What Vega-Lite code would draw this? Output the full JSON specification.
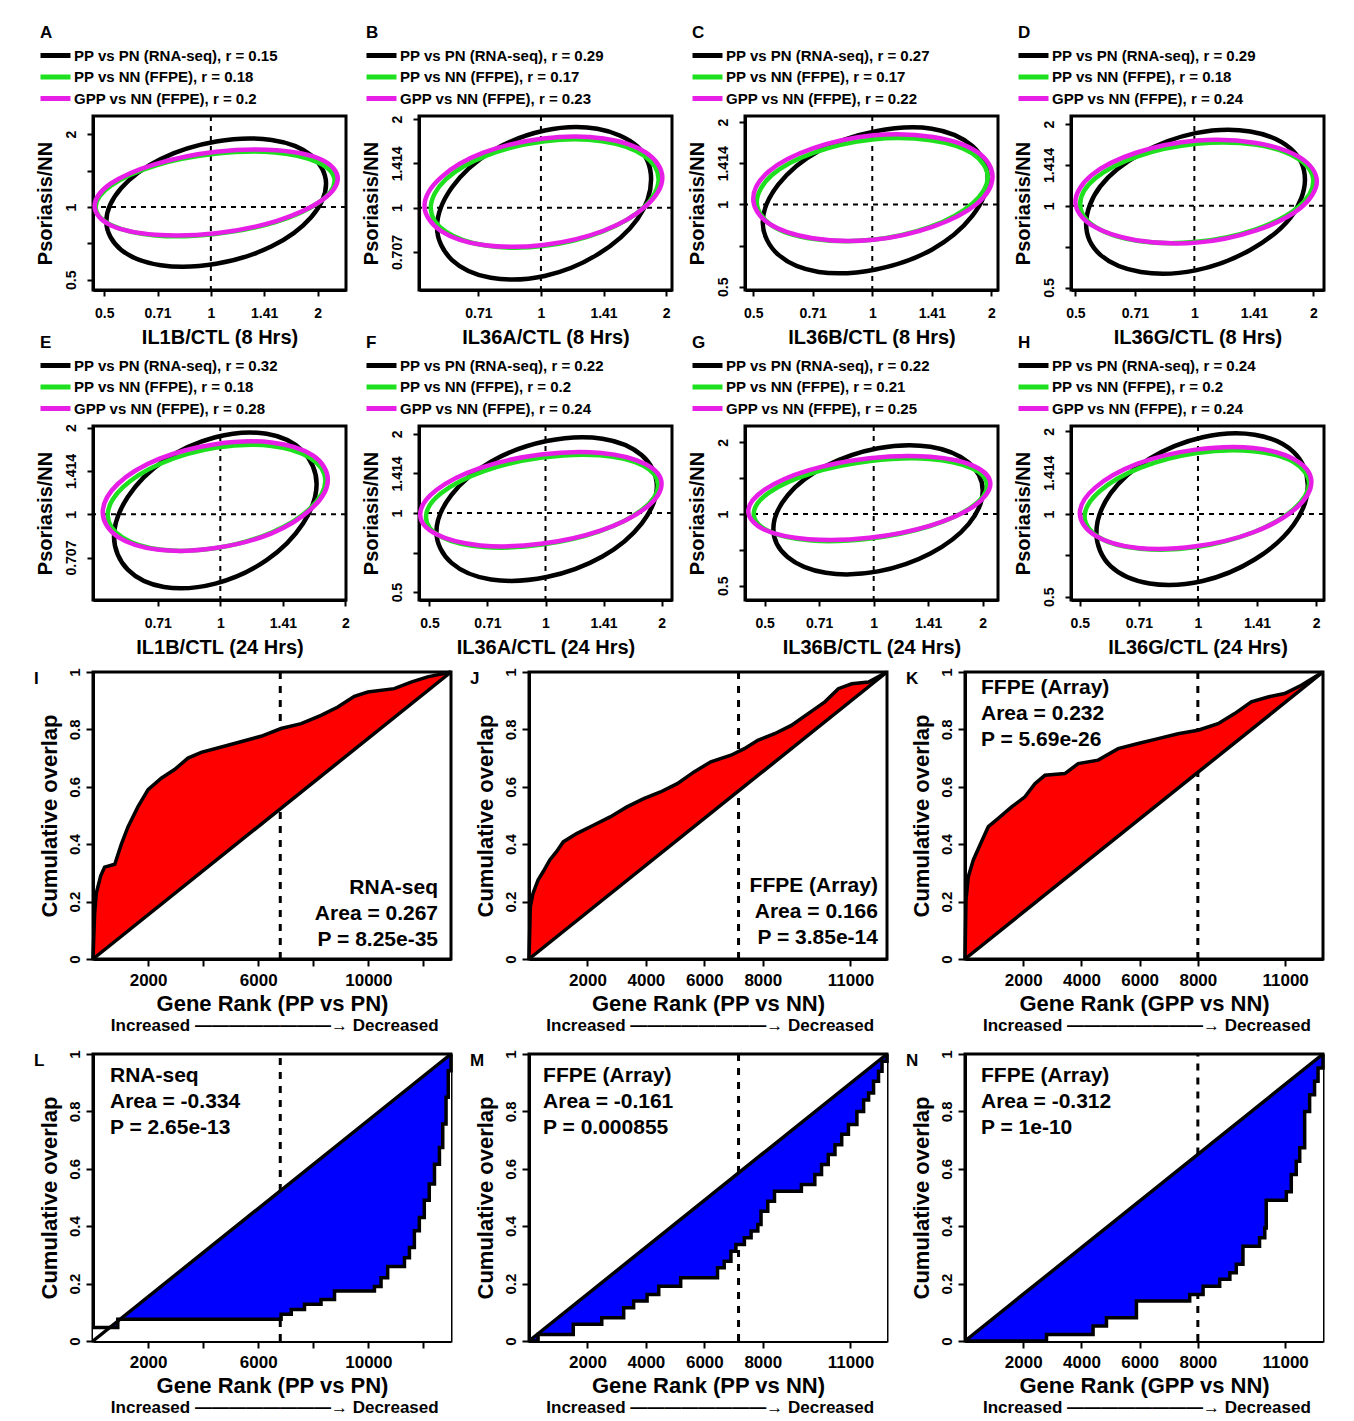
{
"$schema":"https://vega.github.io/schema/vega-lite/v6.json",
"background":"white",
"padding":{"left":32,"top":22,"right":5,"bottom":0},
"config":{
 "view":{"stroke":"black","strokeWidth":3},
 "font":"Liberation Sans",
 "axis":{"domain":true,"domainColor":"black","domainWidth":3,"ticks":true,"tickColor":"black","tickWidth":2,"tickSize":6,"grid":false,"labelColor":"black","labelFont":"Liberation Sans","labelFontWeight":"bold","titleColor":"black","titleFont":"Liberation Sans","titleFontWeight":"bold","zindex":1,"labelFlush":false,"labelOverlap":false},
 "axisX":{"labelAngle":0},
 "axisY":{"labelAngle":-90,"labelAlign":"center","labelBaseline":"bottom"},
 "title":{"font":"Liberation Sans","fontSize":17,"fontWeight":"bold","color":"black","anchor":"start","frame":"group","offset":6},
 "text":{"font":"Liberation Sans","fontWeight":"bold","color":"black"}
},
"datasets":{
"leg":[
{"s":"A1","k":1,"lab":"PP vs PN (RNA-seq), r = 0.15"},{"s":"A2","k":2,"lab":"PP vs NN (FFPE), r = 0.18"},{"s":"A3","k":3,"lab":"GPP vs NN (FFPE), r = 0.2"},
{"s":"B1","k":1,"lab":"PP vs PN (RNA-seq), r = 0.29"},{"s":"B2","k":2,"lab":"PP vs NN (FFPE), r = 0.17"},{"s":"B3","k":3,"lab":"GPP vs NN (FFPE), r = 0.23"},
{"s":"C1","k":1,"lab":"PP vs PN (RNA-seq), r = 0.27"},{"s":"C2","k":2,"lab":"PP vs NN (FFPE), r = 0.17"},{"s":"C3","k":3,"lab":"GPP vs NN (FFPE), r = 0.22"},
{"s":"D1","k":1,"lab":"PP vs PN (RNA-seq), r = 0.29"},{"s":"D2","k":2,"lab":"PP vs NN (FFPE), r = 0.18"},{"s":"D3","k":3,"lab":"GPP vs NN (FFPE), r = 0.24"},
{"s":"E1","k":1,"lab":"PP vs PN (RNA-seq), r = 0.32"},{"s":"E2","k":2,"lab":"PP vs NN (FFPE), r = 0.18"},{"s":"E3","k":3,"lab":"GPP vs NN (FFPE), r = 0.28"},
{"s":"F1","k":1,"lab":"PP vs PN (RNA-seq), r = 0.22"},{"s":"F2","k":2,"lab":"PP vs NN (FFPE), r = 0.2"},{"s":"F3","k":3,"lab":"GPP vs NN (FFPE), r = 0.24"},
{"s":"G1","k":1,"lab":"PP vs PN (RNA-seq), r = 0.22"},{"s":"G2","k":2,"lab":"PP vs NN (FFPE), r = 0.21"},{"s":"G3","k":3,"lab":"GPP vs NN (FFPE), r = 0.25"},
{"s":"H1","k":1,"lab":"PP vs PN (RNA-seq), r = 0.24"},{"s":"H2","k":2,"lab":"PP vs NN (FFPE), r = 0.2"},{"s":"H3","k":3,"lab":"GPP vs NN (FFPE), r = 0.24"}
],
"ell":[
{"s":"A1","x":1.08,"y":0.32},{"s":"A1","x":0.94,"y":0.71},{"s":"A1","x":0.57,"y":0.92},{"s":"A1","x":0.05,"y":0.90},{"s":"A1","x":-0.47,"y":0.66},{"s":"A1","x":-0.84,"y":0.26},{"s":"A1","x":-0.98,"y":-0.20},{"s":"A1","x":-0.84,"y":-0.59},{"s":"A1","x":-0.47,"y":-0.80},{"s":"A1","x":0.05,"y":-0.78},{"s":"A1","x":0.57,"y":-0.54},{"s":"A1","x":0.94,"y":-0.14},
{"s":"A2","x":1.16,"y":0.36},{"s":"A2","x":1.01,"y":0.61},{"s":"A2","x":0.60,"y":0.75},{"s":"A2","x":0.04,"y":0.73},{"s":"A2","x":-0.52,"y":0.57},{"s":"A2","x":-0.93,"y":0.30},{"s":"A2","x":-1.08,"y":0.00},{"s":"A2","x":-0.93,"y":-0.25},{"s":"A2","x":-0.52,"y":-0.39},{"s":"A2","x":0.04,"y":-0.37},{"s":"A2","x":0.60,"y":-0.21},{"s":"A2","x":1.01,"y":0.06},
{"s":"A3","x":1.19,"y":0.39},{"s":"A3","x":1.04,"y":0.65},{"s":"A3","x":0.62,"y":0.78},{"s":"A3","x":0.05,"y":0.76},{"s":"A3","x":-0.52,"y":0.59},{"s":"A3","x":-0.94,"y":0.32},{"s":"A3","x":-1.09,"y":0.01},{"s":"A3","x":-0.94,"y":-0.25},{"s":"A3","x":-0.52,"y":-0.38},{"s":"A3","x":0.05,"y":-0.36},{"s":"A3","x":0.62,"y":-0.19},{"s":"A3","x":1.04,"y":0.09},
{"s":"B1","x":0.88,"y":0.32},{"s":"B1","x":0.77,"y":0.69},{"s":"B1","x":0.45,"y":0.89},{"s":"B1","x":0.03,"y":0.87},{"s":"B1","x":-0.40,"y":0.63},{"s":"B1","x":-0.71,"y":0.23},{"s":"B1","x":-0.83,"y":-0.22},{"s":"B1","x":-0.71,"y":-0.59},{"s":"B1","x":-0.40,"y":-0.79},{"s":"B1","x":0.03,"y":-0.77},{"s":"B1","x":0.45,"y":-0.53},{"s":"B1","x":0.77,"y":-0.13},
{"s":"B2","x":0.94,"y":0.32},{"s":"B2","x":0.82,"y":0.59},{"s":"B2","x":0.49,"y":0.75},{"s":"B2","x":0.03,"y":0.75},{"s":"B2","x":-0.43,"y":0.59},{"s":"B2","x":-0.76,"y":0.32},{"s":"B2","x":-0.88,"y":0.00},{"s":"B2","x":-0.76,"y":-0.27},{"s":"B2","x":-0.43,"y":-0.43},{"s":"B2","x":0.03,"y":-0.43},{"s":"B2","x":0.49,"y":-0.27},{"s":"B2","x":0.82,"y":0.00},
{"s":"B3","x":0.97,"y":0.34},{"s":"B3","x":0.84,"y":0.62},{"s":"B3","x":0.50,"y":0.78},{"s":"B3","x":0.02,"y":0.78},{"s":"B3","x":-0.46,"y":0.62},{"s":"B3","x":-0.80,"y":0.34},{"s":"B3","x":-0.93,"y":0.02},{"s":"B3","x":-0.80,"y":-0.26},{"s":"B3","x":-0.46,"y":-0.42},{"s":"B3","x":0.02,"y":-0.42},{"s":"B3","x":0.50,"y":-0.26},{"s":"B3","x":0.84,"y":0.02},
{"s":"C1","x":0.97,"y":0.32},{"s":"C1","x":0.84,"y":0.71},{"s":"C1","x":0.50,"y":0.92},{"s":"C1","x":0.03,"y":0.89},{"s":"C1","x":-0.45,"y":0.65},{"s":"C1","x":-0.79,"y":0.24},{"s":"C1","x":-0.92,"y":-0.22},{"s":"C1","x":-0.79,"y":-0.61},{"s":"C1","x":-0.45,"y":-0.82},{"s":"C1","x":0.03,"y":-0.79},{"s":"C1","x":0.50,"y":-0.55},{"s":"C1","x":0.84,"y":-0.14},
{"s":"C2","x":0.97,"y":0.33},{"s":"C2","x":0.84,"y":0.62},{"s":"C2","x":0.49,"y":0.78},{"s":"C2","x":0.00,"y":0.79},{"s":"C2","x":-0.49,"y":0.63},{"s":"C2","x":-0.84,"y":0.36},{"s":"C2","x":-0.97,"y":0.03},{"s":"C2","x":-0.84,"y":-0.26},{"s":"C2","x":-0.49,"y":-0.42},{"s":"C2","x":0.00,"y":-0.43},{"s":"C2","x":0.49,"y":-0.27},{"s":"C2","x":0.84,"y":0.01},
{"s":"C3","x":1.01,"y":0.34},{"s":"C3","x":0.88,"y":0.64},{"s":"C3","x":0.51,"y":0.82},{"s":"C3","x":0.01,"y":0.84},{"s":"C3","x":-0.50,"y":0.68},{"s":"C3","x":-0.87,"y":0.40},{"s":"C3","x":-1.00,"y":0.07},{"s":"C3","x":-0.87,"y":-0.23},{"s":"C3","x":-0.50,"y":-0.41},{"s":"C3","x":0.01,"y":-0.43},{"s":"C3","x":0.51,"y":-0.27},{"s":"C3","x":0.88,"y":0.01},
{"s":"D1","x":0.93,"y":0.32},{"s":"D1","x":0.81,"y":0.70},{"s":"D1","x":0.47,"y":0.91},{"s":"D1","x":0.01,"y":0.89},{"s":"D1","x":-0.45,"y":0.64},{"s":"D1","x":-0.79,"y":0.24},{"s":"D1","x":-0.91,"y":-0.22},{"s":"D1","x":-0.79,"y":-0.60},{"s":"D1","x":-0.45,"y":-0.81},{"s":"D1","x":0.01,"y":-0.79},{"s":"D1","x":0.47,"y":-0.54},{"s":"D1","x":0.81,"y":-0.14},
{"s":"D2","x":1.00,"y":0.30},{"s":"D2","x":0.87,"y":0.58},{"s":"D2","x":0.51,"y":0.75},{"s":"D2","x":0.02,"y":0.76},{"s":"D2","x":-0.47,"y":0.61},{"s":"D2","x":-0.83,"y":0.34},{"s":"D2","x":-0.96,"y":0.02},{"s":"D2","x":-0.83,"y":-0.26},{"s":"D2","x":-0.47,"y":-0.43},{"s":"D2","x":0.02,"y":-0.44},{"s":"D2","x":0.51,"y":-0.29},{"s":"D2","x":0.87,"y":-0.02},
{"s":"D3","x":1.03,"y":0.30},{"s":"D3","x":0.89,"y":0.59},{"s":"D3","x":0.52,"y":0.77},{"s":"D3","x":0.02,"y":0.80},{"s":"D3","x":-0.49,"y":0.65},{"s":"D3","x":-0.86,"y":0.38},{"s":"D3","x":-1.00,"y":0.05},{"s":"D3","x":-0.86,"y":-0.24},{"s":"D3","x":-0.49,"y":-0.42},{"s":"D3","x":0.02,"y":-0.45},{"s":"D3","x":0.52,"y":-0.30},{"s":"D3","x":0.89,"y":-0.03},
{"s":"E1","x":0.77,"y":0.35},{"s":"E1","x":0.66,"y":0.73},{"s":"E1","x":0.37,"y":0.93},{"s":"E1","x":-0.04,"y":0.89},{"s":"E1","x":-0.45,"y":0.62},{"s":"E1","x":-0.74,"y":0.20},{"s":"E1","x":-0.85,"y":-0.26},{"s":"E1","x":-0.74,"y":-0.64},{"s":"E1","x":-0.45,"y":-0.84},{"s":"E1","x":-0.04,"y":-0.80},{"s":"E1","x":0.37,"y":-0.53},{"s":"E1","x":0.66,"y":-0.11},
{"s":"E2","x":0.84,"y":0.39},{"s":"E2","x":0.72,"y":0.65},{"s":"E2","x":0.41,"y":0.79},{"s":"E2","x":-0.03,"y":0.77},{"s":"E2","x":-0.47,"y":0.59},{"s":"E2","x":-0.78,"y":0.31},{"s":"E2","x":-0.90,"y":-0.01},{"s":"E2","x":-0.78,"y":-0.27},{"s":"E2","x":-0.47,"y":-0.41},{"s":"E2","x":-0.03,"y":-0.39},{"s":"E2","x":0.41,"y":-0.21},{"s":"E2","x":0.72,"y":0.07},
{"s":"E3","x":0.86,"y":0.40},{"s":"E3","x":0.74,"y":0.68},{"s":"E3","x":0.41,"y":0.83},{"s":"E3","x":-0.04,"y":0.81},{"s":"E3","x":-0.49,"y":0.64},{"s":"E3","x":-0.82,"y":0.35},{"s":"E3","x":-0.94,"y":0.02},{"s":"E3","x":-0.82,"y":-0.26},{"s":"E3","x":-0.49,"y":-0.41},{"s":"E3","x":-0.04,"y":-0.39},{"s":"E3","x":0.41,"y":-0.22},{"s":"E3","x":0.74,"y":0.08},
{"s":"F1","x":0.96,"y":0.34},{"s":"F1","x":0.83,"y":0.73},{"s":"F1","x":0.49,"y":0.94},{"s":"F1","x":0.01,"y":0.91},{"s":"F1","x":-0.47,"y":0.65},{"s":"F1","x":-0.81,"y":0.23},{"s":"F1","x":-0.94,"y":-0.24},{"s":"F1","x":-0.81,"y":-0.63},{"s":"F1","x":-0.47,"y":-0.84},{"s":"F1","x":0.01,"y":-0.81},{"s":"F1","x":0.49,"y":-0.55},{"s":"F1","x":0.83,"y":-0.13},
{"s":"F2","x":0.97,"y":0.35},{"s":"F2","x":0.84,"y":0.60},{"s":"F2","x":0.47,"y":0.73},{"s":"F2","x":-0.03,"y":0.70},{"s":"F2","x":-0.53,"y":0.53},{"s":"F2","x":-0.90,"y":0.25},{"s":"F2","x":-1.03,"y":-0.05},{"s":"F2","x":-0.90,"y":-0.30},{"s":"F2","x":-0.53,"y":-0.43},{"s":"F2","x":-0.03,"y":-0.40},{"s":"F2","x":0.47,"y":-0.23},{"s":"F2","x":0.84,"y":0.05},
{"s":"F3","x":1.00,"y":0.37},{"s":"F3","x":0.86,"y":0.62},{"s":"F3","x":0.48,"y":0.76},{"s":"F3","x":-0.04,"y":0.74},{"s":"F3","x":-0.56,"y":0.57},{"s":"F3","x":-0.94,"y":0.29},{"s":"F3","x":-1.08,"y":-0.02},{"s":"F3","x":-0.94,"y":-0.27},{"s":"F3","x":-0.56,"y":-0.41},{"s":"F3","x":-0.04,"y":-0.39},{"s":"F3","x":0.48,"y":-0.22},{"s":"F3","x":0.86,"y":0.06},
{"s":"G1","x":1.00,"y":0.33},{"s":"G1","x":0.87,"y":0.72},{"s":"G1","x":0.52,"y":0.94},{"s":"G1","x":0.04,"y":0.92},{"s":"G1","x":-0.44,"y":0.67},{"s":"G1","x":-0.79,"y":0.26},{"s":"G1","x":-0.92,"y":-0.21},{"s":"G1","x":-0.79,"y":-0.60},{"s":"G1","x":-0.44,"y":-0.82},{"s":"G1","x":0.04,"y":-0.80},{"s":"G1","x":0.52,"y":-0.55},{"s":"G1","x":0.87,"y":-0.14},
{"s":"G2","x":1.04,"y":0.40},{"s":"G2","x":0.90,"y":0.64},{"s":"G2","x":0.51,"y":0.77},{"s":"G2","x":-0.03,"y":0.74},{"s":"G2","x":-0.57,"y":0.57},{"s":"G2","x":-0.96,"y":0.30},{"s":"G2","x":-1.10,"y":0.00},{"s":"G2","x":-0.96,"y":-0.24},{"s":"G2","x":-0.57,"y":-0.37},{"s":"G2","x":-0.03,"y":-0.34},{"s":"G2","x":0.51,"y":-0.17},{"s":"G2","x":0.90,"y":0.10},
{"s":"G3","x":1.07,"y":0.42},{"s":"G3","x":0.92,"y":0.67},{"s":"G3","x":0.52,"y":0.80},{"s":"G3","x":-0.04,"y":0.78},{"s":"G3","x":-0.60,"y":0.61},{"s":"G3","x":-1.00,"y":0.34},{"s":"G3","x":-1.15,"y":0.04},{"s":"G3","x":-1.00,"y":-0.22},{"s":"G3","x":-0.60,"y":-0.35},{"s":"G3","x":-0.04,"y":-0.33},{"s":"G3","x":0.52,"y":-0.16},{"s":"G3","x":0.92,"y":0.11},
{"s":"H1","x":0.93,"y":0.35},{"s":"H1","x":0.81,"y":0.75},{"s":"H1","x":0.48,"y":0.96},{"s":"H1","x":0.04,"y":0.93},{"s":"H1","x":-0.41,"y":0.67},{"s":"H1","x":-0.74,"y":0.25},{"s":"H1","x":-0.86,"y":-0.23},{"s":"H1","x":-0.74,"y":-0.63},{"s":"H1","x":-0.41,"y":-0.84},{"s":"H1","x":0.04,"y":-0.81},{"s":"H1","x":0.48,"y":-0.55},{"s":"H1","x":0.81,"y":-0.13},
{"s":"H2","x":0.94,"y":0.37},{"s":"H2","x":0.81,"y":0.63},{"s":"H2","x":0.47,"y":0.76},{"s":"H2","x":-0.01,"y":0.74},{"s":"H2","x":-0.49,"y":0.56},{"s":"H2","x":-0.83,"y":0.28},{"s":"H2","x":-0.96,"y":-0.03},{"s":"H2","x":-0.83,"y":-0.29},{"s":"H2","x":-0.49,"y":-0.42},{"s":"H2","x":-0.01,"y":-0.40},{"s":"H2","x":0.47,"y":-0.22},{"s":"H2","x":0.81,"y":0.06},
{"s":"H3","x":0.96,"y":0.39},{"s":"H3","x":0.83,"y":0.65},{"s":"H3","x":0.47,"y":0.80},{"s":"H3","x":-0.02,"y":0.78},{"s":"H3","x":-0.51,"y":0.61},{"s":"H3","x":-0.87,"y":0.32},{"s":"H3","x":-1.00,"y":0.01},{"s":"H3","x":-0.87,"y":-0.26},{"s":"H3","x":-0.51,"y":-0.41},{"s":"H3","x":-0.02,"y":-0.39},{"s":"H3","x":0.47,"y":-0.22},{"s":"H3","x":0.83,"y":0.07}
],
"cur":[
{"c":"I","r":0,"v":0,"d":0},{"c":"I","r":60,"v":0.16,"d":0.0046},{"c":"I","r":120,"v":0.23,"d":0.0092},{"c":"I","r":280,"v":0.29,"d":0.0215},{"c":"I","r":420,"v":0.32,"d":0.0323},{"c":"I","r":790,"v":0.33,"d":0.0608},{"c":"I","r":1030,"v":0.40,"d":0.0792},{"c":"I","r":1270,"v":0.46,"d":0.0977},{"c":"I","r":1630,"v":0.53,"d":0.1254},{"c":"I","r":2000,"v":0.59,"d":0.1538},{"c":"I","r":2480,"v":0.63,"d":0.1908},{"c":"I","r":2960,"v":0.66,"d":0.2277},{"c":"I","r":3450,"v":0.70,"d":0.2654},{"c":"I","r":3930,"v":0.72,"d":0.3023},{"c":"I","r":4900,"v":0.745,"d":0.3769},{"c":"I","r":6100,"v":0.776,"d":0.4692},{"c":"I","r":6830,"v":0.803,"d":0.5254},{"c":"I","r":7560,"v":0.82,"d":0.5815},{"c":"I","r":8280,"v":0.849,"d":0.6369},{"c":"I","r":8890,"v":0.878,"d":0.6838},{"c":"I","r":9490,"v":0.915,"d":0.73},{"c":"I","r":9980,"v":0.93,"d":0.7677},{"c":"I","r":10940,"v":0.942,"d":0.8415},{"c":"I","r":11550,"v":0.965,"d":0.8885},{"c":"I","r":12150,"v":0.983,"d":0.9346},{"c":"I","r":13000,"v":1,"d":1},
{"c":"J","r":0,"v":0,"d":0},{"c":"J","r":46,"v":0.182,"d":0.0038},{"c":"J","r":138,"v":0.229,"d":0.0113},{"c":"J","r":310,"v":0.275,"d":0.0253},{"c":"J","r":482,"v":0.304,"d":0.0393},{"c":"J","r":712,"v":0.345,"d":0.0581},{"c":"J","r":941,"v":0.374,"d":0.0768},{"c":"J","r":1171,"v":0.408,"d":0.0956},{"c":"J","r":1630,"v":0.437,"d":0.1331},{"c":"J","r":2204,"v":0.466,"d":0.1799},{"c":"J","r":2778,"v":0.495,"d":0.2268},{"c":"J","r":3352,"v":0.53,"d":0.2736},{"c":"J","r":3926,"v":0.559,"d":0.3205},{"c":"J","r":4500,"v":0.582,"d":0.3673},{"c":"J","r":5074,"v":0.611,"d":0.4142},{"c":"J","r":5648,"v":0.652,"d":0.4611},{"c":"J","r":6222,"v":0.687,"d":0.5079},{"c":"J","r":6911,"v":0.71,"d":0.5642},{"c":"J","r":7370,"v":0.733,"d":0.6016},{"c":"J","r":7829,"v":0.762,"d":0.6391},{"c":"J","r":8403,"v":0.785,"d":0.686},{"c":"J","r":8977,"v":0.814,"d":0.7328},{"c":"J","r":9551,"v":0.855,"d":0.7797},{"c":"J","r":10125,"v":0.896,"d":0.8265},{"c":"J","r":10585,"v":0.942,"d":0.8641},{"c":"J","r":11044,"v":0.959,"d":0.9016},{"c":"J","r":11618,"v":0.965,"d":0.9484},{"c":"J","r":12250,"v":1,"d":1},
{"c":"K","r":0,"v":0,"d":0},{"c":"K","r":34,"v":0.205,"d":0.0028},{"c":"K","r":114,"v":0.287,"d":0.0093},{"c":"K","r":286,"v":0.345,"d":0.0233},{"c":"K","r":515,"v":0.397,"d":0.0419},{"c":"K","r":801,"v":0.461,"d":0.0651},{"c":"K","r":1144,"v":0.49,"d":0.093},{"c":"K","r":1602,"v":0.53,"d":0.1302},{"c":"K","r":2059,"v":0.565,"d":0.1674},{"c":"K","r":2402,"v":0.611,"d":0.1953},{"c":"K","r":2746,"v":0.64,"d":0.2233},{"c":"K","r":3432,"v":0.646,"d":0.279},{"c":"K","r":3890,"v":0.681,"d":0.3163},{"c":"K","r":4576,"v":0.693,"d":0.372},{"c":"K","r":5262,"v":0.733,"d":0.4278},{"c":"K","r":5949,"v":0.751,"d":0.4837},{"c":"K","r":6635,"v":0.768,"d":0.5394},{"c":"K","r":7322,"v":0.785,"d":0.5953},{"c":"K","r":8008,"v":0.797,"d":0.6511},{"c":"K","r":8694,"v":0.82,"d":0.7068},{"c":"K","r":9266,"v":0.855,"d":0.7533},{"c":"K","r":9838,"v":0.896,"d":0.7998},{"c":"K","r":10410,"v":0.913,"d":0.8463},{"c":"K","r":10982,"v":0.925,"d":0.8929},{"c":"K","r":11554,"v":0.954,"d":0.9393},{"c":"K","r":12300,"v":1,"d":1},
{"c":"L","r":0,"v":0.047},{"c":"L","r":900,"v":0.076},{"c":"L","r":6830,"v":0.093},{"c":"L","r":7200,"v":0.11},{"c":"L","r":7680,"v":0.128},{"c":"L","r":8280,"v":0.145},{"c":"L","r":8770,"v":0.174},{"c":"L","r":10220,"v":0.19},{"c":"L","r":10460,"v":0.22},{"c":"L","r":10700,"v":0.26},{"c":"L","r":11310,"v":0.29},{"c":"L","r":11490,"v":0.326},{"c":"L","r":11670,"v":0.384},{"c":"L","r":11850,"v":0.43},{"c":"L","r":12030,"v":0.49},{"c":"L","r":12210,"v":0.547},{"c":"L","r":12400,"v":0.616},{"c":"L","r":12580,"v":0.674},{"c":"L","r":12700,"v":0.756},{"c":"L","r":12820,"v":0.849},{"c":"L","r":12900,"v":0.942},{"c":"L","r":13000,"v":1},
{"c":"M","r":0,"v":0},{"c":"M","r":310,"v":0.023},{"c":"M","r":1515,"v":0.058},{"c":"M","r":2490,"v":0.081},{"c":"M","r":3240,"v":0.116},{"c":"M","r":3580,"v":0.139},{"c":"M","r":4040,"v":0.162},{"c":"M","r":4440,"v":0.191},{"c":"M","r":5190,"v":0.22},{"c":"M","r":6450,"v":0.255},{"c":"M","r":6680,"v":0.278},{"c":"M","r":6910,"v":0.313},{"c":"M","r":7080,"v":0.336},{"c":"M","r":7370,"v":0.36},{"c":"M","r":7600,"v":0.383},{"c":"M","r":7830,"v":0.406},{"c":"M","r":7940,"v":0.452},{"c":"M","r":8170,"v":0.487},{"c":"M","r":8400,"v":0.522},{"c":"M","r":9320,"v":0.545},{"c":"M","r":9780,"v":0.58},{"c":"M","r":10010,"v":0.615},{"c":"M","r":10240,"v":0.65},{"c":"M","r":10470,"v":0.684},{"c":"M","r":10700,"v":0.72},{"c":"M","r":10930,"v":0.754},{"c":"M","r":11220,"v":0.8},{"c":"M","r":11450,"v":0.84},{"c":"M","r":11620,"v":0.864},{"c":"M","r":11790,"v":0.905},{"c":"M","r":11960,"v":0.94},{"c":"M","r":12080,"v":0.975},{"c":"M","r":12250,"v":1},
{"c":"N","r":0,"v":0},{"c":"N","r":2800,"v":0.023},{"c":"N","r":4400,"v":0.052},{"c":"N","r":4860,"v":0.081},{"c":"N","r":5890,"v":0.139},{"c":"N","r":7720,"v":0.162},{"c":"N","r":8180,"v":0.191},{"c":"N","r":8750,"v":0.215},{"c":"N","r":9100,"v":0.238},{"c":"N","r":9320,"v":0.267},{"c":"N","r":9550,"v":0.33},{"c":"N","r":10120,"v":0.36},{"c":"N","r":10300,"v":0.394},{"c":"N","r":10350,"v":0.49},{"c":"N","r":11040,"v":0.52},{"c":"N","r":11210,"v":0.58},{"c":"N","r":11380,"v":0.626},{"c":"N","r":11500,"v":0.673},{"c":"N","r":11670,"v":0.8},{"c":"N","r":11840,"v":0.858},{"c":"N","r":12010,"v":0.905},{"c":"N","r":12130,"v":0.951},{"c":"N","r":12300,"v":1}
],
"diag":[
{"c":"I","r":0,"v":0},{"c":"I","r":13000,"v":1},{"c":"J","r":0,"v":0},{"c":"J","r":12250,"v":1},{"c":"K","r":0,"v":0},{"c":"K","r":12300,"v":1},
{"c":"L","r":0,"v":0},{"c":"L","r":13000,"v":1},{"c":"M","r":0,"v":0},{"c":"M","r":12250,"v":1},{"c":"N","r":0,"v":0},{"c":"N","r":12300,"v":1}
]
},
"spacing":4,
"resolve":{"scale":{"color":"independent"}},
"vconcat":[
{"spacing":-17,"resolve":{"scale":{"color":"independent"}},"vconcat":[
 {"hconcat":[
  {"width":253,"height":174,"title":{"text":"A","dx":-53},"layer":[
   {"data":{"values":[{}]},"mark":{"type":"rule","strokeDash":[5,5],"strokeWidth":2,"color":"black"},"encoding":{"x":{"datum":0,"type":"quantitative"}}},
   {"data":{"values":[{}]},"mark":{"type":"rule","strokeDash":[5,5],"strokeWidth":2,"color":"black"},"encoding":{"y":{"datum":0,"type":"quantitative"}}},
   {"data":{"name":"ell"},"transform":[{"filter":{"field":"s","oneOf":["A1","A2","A3"]}},{"lookup":"s","from":{"data":{"name":"leg"},"key":"s","fields":["lab","k"]}}],
    "mark":{"type":"line","interpolate":"cardinal-closed","strokeWidth":4.5},
    "encoding":{
     "x":{"field":"x","type":"quantitative","scale":{"domain":[-1.105,1.267],"nice":false,"zero":false},"axis":{"values":[-1,-0.5,0,0.5,1],"labelExpr":"datum.value==-1?'0.5':datum.value==-0.5?'0.71':datum.value==0?'1':datum.value==0.5?'1.41':'2'","title":"IL1B/CTL (8 Hrs)","labelFontSize":14,"titleFontSize":20,"labelPadding":10,"titlePadding":7}},
     "y":{"field":"y","type":"quantitative","scale":{"domain":[-1.14,1.25],"nice":false,"zero":false},"axis":{"values":[-1,-0.5,0,0.5,1],"labelExpr":"datum.value==1?'2':datum.value==0?'1':datum.value==-1?'0.5':''","title":"Psoriasis/NN","labelFontSize":14,"titleFontSize":20,"labelPadding":9,"titlePadding":9}},
     "color":{"field":"lab","type":"nominal","sort":{"field":"k","op":"min"},"scale":{"range":["#000000","#1fe01f","#e61ee6"]},"legend":{"title":null,"orient":"none","legendX":-45,"legendY":-68,"symbolType":"M-3,0H3","symbolSize":100,"symbolStrokeWidth":5,"labelFont":"Liberation Sans","labelFontSize":15,"labelFontWeight":"bold","labelColor":"black","labelLimit":400,"rowPadding":0.5,"labelOffset":11,"padding":0}},
     "order":{"value":null}}}
  ]},
  {"width":253,"height":174,"title":{"text":"B","dx":-53},"layer":[
   {"data":{"values":[{}]},"mark":{"type":"rule","strokeDash":[5,5],"strokeWidth":2,"color":"black"},"encoding":{"x":{"datum":0,"type":"quantitative"}}},
   {"data":{"values":[{}]},"mark":{"type":"rule","strokeDash":[5,5],"strokeWidth":2,"color":"black"},"encoding":{"y":{"datum":0,"type":"quantitative"}}},
   {"data":{"name":"ell"},"transform":[{"filter":{"field":"s","oneOf":["B1","B2","B3"]}},{"lookup":"s","from":{"data":{"name":"leg"},"key":"s","fields":["lab","k"]}}],
    "mark":{"type":"line","interpolate":"cardinal-closed","strokeWidth":4.5},
    "encoding":{
     "x":{"field":"x","type":"quantitative","scale":{"domain":[-0.974,1.047],"nice":false,"zero":false},"axis":{"values":[-0.5,0,0.5,1],"labelExpr":"datum.value==-1?'0.5':datum.value==-0.5?'0.71':datum.value==0?'1':datum.value==0.5?'1.41':'2'","title":"IL36A/CTL (8 Hrs)","labelFontSize":14,"titleFontSize":20,"labelPadding":10,"titlePadding":7}},
     "y":{"field":"y","type":"quantitative","scale":{"domain":[-0.928,1.034],"nice":false,"zero":false},"axis":{"values":[-0.5,0,0.5,1],"labelExpr":"datum.value==-1?'0.5':datum.value==-0.5?'0.707':datum.value==0?'1':datum.value==0.5?'1.414':'2'","title":"Psoriasis/NN","labelFontSize":14,"titleFontSize":20,"labelPadding":9,"titlePadding":9}},
     "color":{"field":"lab","type":"nominal","sort":{"field":"k","op":"min"},"scale":{"range":["#000000","#1fe01f","#e61ee6"]},"legend":{"title":null,"orient":"none","legendX":-45,"legendY":-68,"symbolType":"M-3,0H3","symbolSize":100,"symbolStrokeWidth":5,"labelFont":"Liberation Sans","labelFontSize":15,"labelFontWeight":"bold","labelColor":"black","labelLimit":400,"rowPadding":0.5,"labelOffset":11,"padding":0}},
     "order":{"value":null}}}
  ]},
  {"width":253,"height":174,"title":{"text":"C","dx":-53},"layer":[
   {"data":{"values":[{}]},"mark":{"type":"rule","strokeDash":[5,5],"strokeWidth":2,"color":"black"},"encoding":{"x":{"datum":0,"type":"quantitative"}}},
   {"data":{"values":[{}]},"mark":{"type":"rule","strokeDash":[5,5],"strokeWidth":2,"color":"black"},"encoding":{"y":{"datum":0,"type":"quantitative"}}},
   {"data":{"name":"ell"},"transform":[{"filter":{"field":"s","oneOf":["C1","C2","C3"]}},{"lookup":"s","from":{"data":{"name":"leg"},"key":"s","fields":["lab","k"]}}],
    "mark":{"type":"line","interpolate":"cardinal-closed","strokeWidth":4.5},
    "encoding":{
     "x":{"field":"x","type":"quantitative","scale":{"domain":[-1.069,1.056],"nice":false,"zero":false},"axis":{"values":[-1,-0.5,0,0.5,1],"labelExpr":"datum.value==-1?'0.5':datum.value==-0.5?'0.71':datum.value==0?'1':datum.value==0.5?'1.41':'2'","title":"IL36B/CTL (8 Hrs)","labelFontSize":14,"titleFontSize":20,"labelPadding":10,"titlePadding":7}},
     "y":{"field":"y","type":"quantitative","scale":{"domain":[-1.04,1.075],"nice":false,"zero":false},"axis":{"values":[-1,-0.5,0,0.5,1],"labelExpr":"datum.value==1?'2':datum.value==0.5?'1.414':datum.value==0?'1':datum.value==-1?'0.5':''","title":"Psoriasis/NN","labelFontSize":14,"titleFontSize":20,"labelPadding":9,"titlePadding":9}},
     "color":{"field":"lab","type":"nominal","sort":{"field":"k","op":"min"},"scale":{"range":["#000000","#1fe01f","#e61ee6"]},"legend":{"title":null,"orient":"none","legendX":-45,"legendY":-68,"symbolType":"M-3,0H3","symbolSize":100,"symbolStrokeWidth":5,"labelFont":"Liberation Sans","labelFontSize":15,"labelFontWeight":"bold","labelColor":"black","labelLimit":400,"rowPadding":0.5,"labelOffset":11,"padding":0}},
     "order":{"value":null}}}
  ]},
  {"width":253,"height":174,"title":{"text":"D","dx":-53},"layer":[
   {"data":{"values":[{}]},"mark":{"type":"rule","strokeDash":[5,5],"strokeWidth":2,"color":"black"},"encoding":{"x":{"datum":0,"type":"quantitative"}}},
   {"data":{"values":[{}]},"mark":{"type":"rule","strokeDash":[5,5],"strokeWidth":2,"color":"black"},"encoding":{"y":{"datum":0,"type":"quantitative"}}},
   {"data":{"name":"ell"},"transform":[{"filter":{"field":"s","oneOf":["D1","D2","D3"]}},{"lookup":"s","from":{"data":{"name":"leg"},"key":"s","fields":["lab","k"]}}],
    "mark":{"type":"line","interpolate":"cardinal-closed","strokeWidth":4.5},
    "encoding":{
     "x":{"field":"x","type":"quantitative","scale":{"domain":[-1.037,1.09],"nice":false,"zero":false},"axis":{"values":[-1,-0.5,0,0.5,1],"labelExpr":"datum.value==-1?'0.5':datum.value==-0.5?'0.71':datum.value==0?'1':datum.value==0.5?'1.41':'2'","title":"IL36G/CTL (8 Hrs)","labelFontSize":14,"titleFontSize":20,"labelPadding":10,"titlePadding":7}},
     "y":{"field":"y","type":"quantitative","scale":{"domain":[-1.03,1.10],"nice":false,"zero":false},"axis":{"values":[-1,-0.5,0,0.5,1],"labelExpr":"datum.value==1?'2':datum.value==0.5?'1.414':datum.value==0?'1':datum.value==-1?'0.5':''","title":"Psoriasis/NN","labelFontSize":14,"titleFontSize":20,"labelPadding":9,"titlePadding":9}},
     "color":{"field":"lab","type":"nominal","sort":{"field":"k","op":"min"},"scale":{"range":["#000000","#1fe01f","#e61ee6"]},"legend":{"title":null,"orient":"none","legendX":-45,"legendY":-68,"symbolType":"M-3,0H3","symbolSize":100,"symbolStrokeWidth":5,"labelFont":"Liberation Sans","labelFontSize":15,"labelFontWeight":"bold","labelColor":"black","labelLimit":400,"rowPadding":0.5,"labelOffset":11,"padding":0}},
     "order":{"value":null}}}
  ]}
 ],"bounds":"flush","spacing":73,"resolve":{"scale":{"color":"independent"}}},
 {"hconcat":[
  {"width":253,"height":174,"title":{"text":"E","dx":-53},"layer":[
   {"data":{"values":[{}]},"mark":{"type":"rule","strokeDash":[5,5],"strokeWidth":2,"color":"black"},"encoding":{"x":{"datum":0,"type":"quantitative"}}},
   {"data":{"values":[{}]},"mark":{"type":"rule","strokeDash":[5,5],"strokeWidth":2,"color":"black"},"encoding":{"y":{"datum":0,"type":"quantitative"}}},
   {"data":{"name":"ell"},"transform":[{"filter":{"field":"s","oneOf":["E1","E2","E3"]}},{"lookup":"s","from":{"data":{"name":"leg"},"key":"s","fields":["lab","k"]}}],
    "mark":{"type":"line","interpolate":"cardinal-closed","strokeWidth":4.5},
    "encoding":{
     "x":{"field":"x","type":"quantitative","scale":{"domain":[-1.018,1.005],"nice":false,"zero":false},"axis":{"values":[-0.5,0,0.5,1],"labelExpr":"datum.value==-1?'0.5':datum.value==-0.5?'0.71':datum.value==0?'1':datum.value==0.5?'1.41':'2'","title":"IL1B/CTL (24 Hrs)","labelFontSize":14,"titleFontSize":20,"labelPadding":10,"titlePadding":7}},
     "y":{"field":"y","type":"quantitative","scale":{"domain":[-0.99,1.02],"nice":false,"zero":false},"axis":{"values":[-0.5,0,0.5,1],"labelExpr":"datum.value==-1?'0.5':datum.value==-0.5?'0.707':datum.value==0?'1':datum.value==0.5?'1.414':'2'","title":"Psoriasis/NN","labelFontSize":14,"titleFontSize":20,"labelPadding":9,"titlePadding":9}},
     "color":{"field":"lab","type":"nominal","sort":{"field":"k","op":"min"},"scale":{"range":["#000000","#1fe01f","#e61ee6"]},"legend":{"title":null,"orient":"none","legendX":-45,"legendY":-68,"symbolType":"M-3,0H3","symbolSize":100,"symbolStrokeWidth":5,"labelFont":"Liberation Sans","labelFontSize":15,"labelFontWeight":"bold","labelColor":"black","labelLimit":400,"rowPadding":0.5,"labelOffset":11,"padding":0}},
     "order":{"value":null}}}
  ]},
  {"width":253,"height":174,"title":{"text":"F","dx":-53},"layer":[
   {"data":{"values":[{}]},"mark":{"type":"rule","strokeDash":[5,5],"strokeWidth":2,"color":"black"},"encoding":{"x":{"datum":0,"type":"quantitative"}}},
   {"data":{"values":[{}]},"mark":{"type":"rule","strokeDash":[5,5],"strokeWidth":2,"color":"black"},"encoding":{"y":{"datum":0,"type":"quantitative"}}},
   {"data":{"name":"ell"},"transform":[{"filter":{"field":"s","oneOf":["F1","F2","F3"]}},{"lookup":"s","from":{"data":{"name":"leg"},"key":"s","fields":["lab","k"]}}],
    "mark":{"type":"line","interpolate":"cardinal-closed","strokeWidth":4.5},
    "encoding":{
     "x":{"field":"x","type":"quantitative","scale":{"domain":[-1.09,1.09],"nice":false,"zero":false},"axis":{"values":[-1,-0.5,0,0.5,1],"labelExpr":"datum.value==-1?'0.5':datum.value==-0.5?'0.71':datum.value==0?'1':datum.value==0.5?'1.41':'2'","title":"IL36A/CTL (24 Hrs)","labelFontSize":14,"titleFontSize":20,"labelPadding":10,"titlePadding":7}},
     "y":{"field":"y","type":"quantitative","scale":{"domain":[-1.1,1.1],"nice":false,"zero":false},"axis":{"values":[-1,-0.5,0,0.5,1],"labelExpr":"datum.value==1?'2':datum.value==0.5?'1.414':datum.value==0?'1':datum.value==-1?'0.5':''","title":"Psoriasis/NN","labelFontSize":14,"titleFontSize":20,"labelPadding":9,"titlePadding":9}},
     "color":{"field":"lab","type":"nominal","sort":{"field":"k","op":"min"},"scale":{"range":["#000000","#1fe01f","#e61ee6"]},"legend":{"title":null,"orient":"none","legendX":-45,"legendY":-68,"symbolType":"M-3,0H3","symbolSize":100,"symbolStrokeWidth":5,"labelFont":"Liberation Sans","labelFontSize":15,"labelFontWeight":"bold","labelColor":"black","labelLimit":400,"rowPadding":0.5,"labelOffset":11,"padding":0}},
     "order":{"value":null}}}
  ]},
  {"width":253,"height":174,"title":{"text":"G","dx":-53},"layer":[
   {"data":{"values":[{}]},"mark":{"type":"rule","strokeDash":[5,5],"strokeWidth":2,"color":"black"},"encoding":{"x":{"datum":0,"type":"quantitative"}}},
   {"data":{"values":[{}]},"mark":{"type":"rule","strokeDash":[5,5],"strokeWidth":2,"color":"black"},"encoding":{"y":{"datum":0,"type":"quantitative"}}},
   {"data":{"name":"ell"},"transform":[{"filter":{"field":"s","oneOf":["G1","G2","G3"]}},{"lookup":"s","from":{"data":{"name":"leg"},"key":"s","fields":["lab","k"]}}],
    "mark":{"type":"line","interpolate":"cardinal-closed","strokeWidth":4.5},
    "encoding":{
     "x":{"field":"x","type":"quantitative","scale":{"domain":[-1.18,1.14],"nice":false,"zero":false},"axis":{"values":[-1,-0.5,0,0.5,1],"labelExpr":"datum.value==-1?'0.5':datum.value==-0.5?'0.71':datum.value==0?'1':datum.value==0.5?'1.41':'2'","title":"IL36B/CTL (24 Hrs)","labelFontSize":14,"titleFontSize":20,"labelPadding":10,"titlePadding":7}},
     "y":{"field":"y","type":"quantitative","scale":{"domain":[-1.2,1.23],"nice":false,"zero":false},"axis":{"values":[-1,-0.5,0,0.5,1],"labelExpr":"datum.value==1?'2':datum.value==0?'1':datum.value==-1?'0.5':''","title":"Psoriasis/NN","labelFontSize":14,"titleFontSize":20,"labelPadding":9,"titlePadding":9}},
     "color":{"field":"lab","type":"nominal","sort":{"field":"k","op":"min"},"scale":{"range":["#000000","#1fe01f","#e61ee6"]},"legend":{"title":null,"orient":"none","legendX":-45,"legendY":-68,"symbolType":"M-3,0H3","symbolSize":100,"symbolStrokeWidth":5,"labelFont":"Liberation Sans","labelFontSize":15,"labelFontWeight":"bold","labelColor":"black","labelLimit":400,"rowPadding":0.5,"labelOffset":11,"padding":0}},
     "order":{"value":null}}}
  ]},
  {"width":253,"height":174,"title":{"text":"H","dx":-53},"layer":[
   {"data":{"values":[{}]},"mark":{"type":"rule","strokeDash":[5,5],"strokeWidth":2,"color":"black"},"encoding":{"x":{"datum":0,"type":"quantitative"}}},
   {"data":{"values":[{}]},"mark":{"type":"rule","strokeDash":[5,5],"strokeWidth":2,"color":"black"},"encoding":{"y":{"datum":0,"type":"quantitative"}}},
   {"data":{"name":"ell"},"transform":[{"filter":{"field":"s","oneOf":["H1","H2","H3"]}},{"lookup":"s","from":{"data":{"name":"leg"},"key":"s","fields":["lab","k"]}}],
    "mark":{"type":"line","interpolate":"cardinal-closed","strokeWidth":4.5},
    "encoding":{
     "x":{"field":"x","type":"quantitative","scale":{"domain":[-1.075,1.067],"nice":false,"zero":false},"axis":{"values":[-1,-0.5,0,0.5,1],"labelExpr":"datum.value==-1?'0.5':datum.value==-0.5?'0.71':datum.value==0?'1':datum.value==0.5?'1.41':'2'","title":"IL36G/CTL (24 Hrs)","labelFontSize":14,"titleFontSize":20,"labelPadding":10,"titlePadding":7}},
     "y":{"field":"y","type":"quantitative","scale":{"domain":[-1.04,1.066],"nice":false,"zero":false},"axis":{"values":[-1,-0.5,0,0.5,1],"labelExpr":"datum.value==1?'2':datum.value==0.5?'1.414':datum.value==0?'1':datum.value==-1?'0.5':''","title":"Psoriasis/NN","labelFontSize":14,"titleFontSize":20,"labelPadding":9,"titlePadding":9}},
     "color":{"field":"lab","type":"nominal","sort":{"field":"k","op":"min"},"scale":{"range":["#000000","#1fe01f","#e61ee6"]},"legend":{"title":null,"orient":"none","legendX":-45,"legendY":-68,"symbolType":"M-3,0H3","symbolSize":100,"symbolStrokeWidth":5,"labelFont":"Liberation Sans","labelFontSize":15,"labelFontWeight":"bold","labelColor":"black","labelLimit":400,"rowPadding":0.5,"labelOffset":11,"padding":0}},
     "order":{"value":null}}}
  ]}
 ],"bounds":"flush","spacing":73,"resolve":{"scale":{"color":"independent"}}}
]},
{"spacing":9,"vconcat":[
 {"hconcat":[
  {"width":358,"height":287,"title":{"text":"I","dx":-59,"dy":29},"layer":[
   {"data":{"values":[{}]},"mark":{"type":"rule","strokeDash":[7,7],"strokeWidth":3,"color":"black"},"encoding":{"x":{"datum":6800,"type":"quantitative"}}},
   {"data":{"name":"cur"},"transform":[{"filter":{"field":"c","equal":"I"}}],"mark":{"type":"area","color":"#ff0000"},
    "encoding":{"x":{"field":"r","type":"quantitative","scale":{"domain":[0,13000],"nice":false,"zero":false},"axis":{"values":[2000,4000,6000,8000,10000,12000],"format":"d","labelExpr":"datum.value%4000==2000?datum.label:''","title":"Gene Rank (PP vs PN)","labelFontSize":17,"titleFontSize":22,"labelPadding":6,"titlePadding":5,"tickSize":7}},
     "y":{"field":"v","type":"quantitative","scale":{"domain":[0,1],"nice":false,"zero":false},"axis":{"values":[0,0.2,0.4,0.6,0.8,1],"format":".1~f","title":"Cumulative overlap","labelFontSize":15,"titleFontSize":22,"labelPadding":4,"titlePadding":6,"tickSize":7}},"y2":{"field":"d"}}},
   {"data":{"name":"cur"},"transform":[{"filter":{"field":"c","equal":"I"}}],"mark":{"type":"line","color":"black","strokeWidth":3.5},"encoding":{"x":{"field":"r","type":"quantitative"},"y":{"field":"v","type":"quantitative"}}},
   {"data":{"name":"diag"},"transform":[{"filter":{"field":"c","equal":"I"}}],"mark":{"type":"line","color":"black","strokeWidth":3.5},"encoding":{"x":{"field":"r","type":"quantitative"},"y":{"field":"v","type":"quantitative"}}},
   {"data":{"values":[{}]},"mark":{"type":"text","text":["RNA-seq","Area = 0.267","P = 8.25e-35"],"align":"right","baseline":"middle","fontSize":21,"lineHeight":26},"encoding":{"x":{"datum":12530,"type":"quantitative"},"y":{"datum":0.247,"type":"quantitative"}}},
   {"data":{"values":[{}]},"mark":{"type":"text","text":"Increased ————————→ Decreased","align":"center","baseline":"middle","fontSize":17},"encoding":{"x":{"datum":6600,"type":"quantitative"},"y":{"datum":-0.235,"type":"quantitative"}}}
  ]},
  {"width":358,"height":287,"title":{"text":"J","dx":-59,"dy":29},"layer":[
   {"data":{"values":[{}]},"mark":{"type":"rule","strokeDash":[7,7],"strokeWidth":3,"color":"black"},"encoding":{"x":{"datum":7170,"type":"quantitative"}}},
   {"data":{"name":"cur"},"transform":[{"filter":{"field":"c","equal":"J"}}],"mark":{"type":"area","color":"#ff0000"},
    "encoding":{"x":{"field":"r","type":"quantitative","scale":{"domain":[0,12250],"nice":false,"zero":false},"axis":{"values":[2000,4000,6000,8000,11000],"format":"d","title":"Gene Rank (PP vs NN)","labelFontSize":17,"titleFontSize":22,"labelPadding":6,"titlePadding":5,"tickSize":7}},
     "y":{"field":"v","type":"quantitative","scale":{"domain":[0,1],"nice":false,"zero":false},"axis":{"values":[0,0.2,0.4,0.6,0.8,1],"format":".1~f","title":"Cumulative overlap","labelFontSize":15,"titleFontSize":22,"labelPadding":4,"titlePadding":6,"tickSize":7}},"y2":{"field":"d"}}},
   {"data":{"name":"cur"},"transform":[{"filter":{"field":"c","equal":"J"}}],"mark":{"type":"line","color":"black","strokeWidth":3.5},"encoding":{"x":{"field":"r","type":"quantitative"},"y":{"field":"v","type":"quantitative"}}},
   {"data":{"name":"diag"},"transform":[{"filter":{"field":"c","equal":"J"}}],"mark":{"type":"line","color":"black","strokeWidth":3.5},"encoding":{"x":{"field":"r","type":"quantitative"},"y":{"field":"v","type":"quantitative"}}},
   {"data":{"values":[{}]},"mark":{"type":"text","text":["FFPE (Array)","Area = 0.166","P = 3.85e-14"],"align":"right","baseline":"middle","fontSize":21,"lineHeight":26},"encoding":{"x":{"datum":11940,"type":"quantitative"},"y":{"datum":0.253,"type":"quantitative"}}},
   {"data":{"values":[{}]},"mark":{"type":"text","text":"Increased ————————→ Decreased","align":"center","baseline":"middle","fontSize":17},"encoding":{"x":{"datum":6200,"type":"quantitative"},"y":{"datum":-0.235,"type":"quantitative"}}}
  ]},
  {"width":358,"height":287,"title":{"text":"K","dx":-59,"dy":29},"layer":[
   {"data":{"values":[{}]},"mark":{"type":"rule","strokeDash":[7,7],"strokeWidth":3,"color":"black"},"encoding":{"x":{"datum":8000,"type":"quantitative"}}},
   {"data":{"name":"cur"},"transform":[{"filter":{"field":"c","equal":"K"}}],"mark":{"type":"area","color":"#ff0000"},
    "encoding":{"x":{"field":"r","type":"quantitative","scale":{"domain":[0,12300],"nice":false,"zero":false},"axis":{"values":[2000,4000,6000,8000,11000],"format":"d","title":"Gene Rank (GPP vs NN)","labelFontSize":17,"titleFontSize":22,"labelPadding":6,"titlePadding":5,"tickSize":7}},
     "y":{"field":"v","type":"quantitative","scale":{"domain":[0,1],"nice":false,"zero":false},"axis":{"values":[0,0.2,0.4,0.6,0.8,1],"format":".1~f","title":"Cumulative overlap","labelFontSize":15,"titleFontSize":22,"labelPadding":4,"titlePadding":6,"tickSize":7}},"y2":{"field":"d"}}},
   {"data":{"name":"cur"},"transform":[{"filter":{"field":"c","equal":"K"}}],"mark":{"type":"line","color":"black","strokeWidth":3.5},"encoding":{"x":{"field":"r","type":"quantitative"},"y":{"field":"v","type":"quantitative"}}},
   {"data":{"name":"diag"},"transform":[{"filter":{"field":"c","equal":"K"}}],"mark":{"type":"line","color":"black","strokeWidth":3.5},"encoding":{"x":{"field":"r","type":"quantitative"},"y":{"field":"v","type":"quantitative"}}},
   {"data":{"values":[{}]},"mark":{"type":"text","text":["FFPE (Array)","Area = 0.232","P = 5.69e-26"],"align":"left","baseline":"middle","fontSize":21,"lineHeight":26},"encoding":{"x":{"datum":550,"type":"quantitative"},"y":{"datum":0.944,"type":"quantitative"}}},
   {"data":{"values":[{}]},"mark":{"type":"text","text":"Increased ————————→ Decreased","align":"center","baseline":"middle","fontSize":17},"encoding":{"x":{"datum":6250,"type":"quantitative"},"y":{"datum":-0.235,"type":"quantitative"}}}
  ]}
 ],"bounds":"flush","spacing":78},
 {"hconcat":[
  {"width":358,"height":287,"title":{"text":"L","dx":-59,"dy":29},"layer":[
   {"data":{"name":"diag"},"transform":[{"filter":{"field":"c","equal":"L"}}],"mark":{"type":"area","color":"#0000ff"},
    "encoding":{"x":{"field":"r","type":"quantitative","scale":{"domain":[0,13000],"nice":false,"zero":false},"axis":{"values":[2000,4000,6000,8000,10000,12000],"format":"d","labelExpr":"datum.value%4000==2000?datum.label:''","title":"Gene Rank (PP vs PN)","labelFontSize":17,"titleFontSize":22,"labelPadding":6,"titlePadding":5,"tickSize":7}},
     "y":{"field":"v","type":"quantitative","scale":{"domain":[0,1],"nice":false,"zero":false},"axis":{"values":[0,0.2,0.4,0.6,0.8,1],"format":".1~f","title":"Cumulative overlap","labelFontSize":15,"titleFontSize":22,"labelPadding":4,"titlePadding":6,"tickSize":7}}}},
   {"data":{"name":"cur"},"transform":[{"filter":{"field":"c","equal":"L"}}],"mark":{"type":"area","color":"#ffffff","interpolate":"step-after"},"encoding":{"x":{"field":"r","type":"quantitative"},"y":{"field":"v","type":"quantitative"}}},
   {"data":{"name":"cur"},"transform":[{"filter":{"field":"c","equal":"L"}}],"mark":{"type":"line","color":"black","strokeWidth":3.5,"interpolate":"step-after"},"encoding":{"x":{"field":"r","type":"quantitative"},"y":{"field":"v","type":"quantitative"}}},
   {"data":{"name":"diag"},"transform":[{"filter":{"field":"c","equal":"L"}}],"mark":{"type":"line","color":"black","strokeWidth":3.5},"encoding":{"x":{"field":"r","type":"quantitative"},"y":{"field":"v","type":"quantitative"}}},
   {"data":{"values":[{}]},"mark":{"type":"rule","strokeDash":[7,7],"strokeWidth":3,"color":"black"},"encoding":{"x":{"datum":6800,"type":"quantitative"},"y":{"datum":0.523,"type":"quantitative"},"y2":{"datum":1}}},
   {"data":{"values":[{}]},"mark":{"type":"rule","strokeDash":[7,7],"strokeWidth":3,"color":"black"},"encoding":{"x":{"datum":6800,"type":"quantitative"},"y":{"datum":0,"type":"quantitative"},"y2":{"datum":0.076}}},
   {"data":{"values":[{}]},"mark":{"type":"text","text":["RNA-seq","Area = -0.334","P = 2.65e-13"],"align":"left","baseline":"middle","fontSize":21,"lineHeight":26},"encoding":{"x":{"datum":617,"type":"quantitative"},"y":{"datum":0.923,"type":"quantitative"}}},
   {"data":{"values":[{}]},"mark":{"type":"text","text":"Increased ————————→ Decreased","align":"center","baseline":"middle","fontSize":17},"encoding":{"x":{"datum":6600,"type":"quantitative"},"y":{"datum":-0.235,"type":"quantitative"}}}
  ]},
  {"width":358,"height":287,"title":{"text":"M","dx":-59,"dy":29},"layer":[
   {"data":{"name":"diag"},"transform":[{"filter":{"field":"c","equal":"M"}}],"mark":{"type":"area","color":"#0000ff"},
    "encoding":{"x":{"field":"r","type":"quantitative","scale":{"domain":[0,12250],"nice":false,"zero":false},"axis":{"values":[2000,4000,6000,8000,11000],"format":"d","title":"Gene Rank (PP vs NN)","labelFontSize":17,"titleFontSize":22,"labelPadding":6,"titlePadding":5,"tickSize":7}},
     "y":{"field":"v","type":"quantitative","scale":{"domain":[0,1],"nice":false,"zero":false},"axis":{"values":[0,0.2,0.4,0.6,0.8,1],"format":".1~f","title":"Cumulative overlap","labelFontSize":15,"titleFontSize":22,"labelPadding":4,"titlePadding":6,"tickSize":7}}}},
   {"data":{"name":"cur"},"transform":[{"filter":{"field":"c","equal":"M"}}],"mark":{"type":"area","color":"#ffffff","interpolate":"step-after"},"encoding":{"x":{"field":"r","type":"quantitative"},"y":{"field":"v","type":"quantitative"}}},
   {"data":{"name":"cur"},"transform":[{"filter":{"field":"c","equal":"M"}}],"mark":{"type":"line","color":"black","strokeWidth":3.5,"interpolate":"step-after"},"encoding":{"x":{"field":"r","type":"quantitative"},"y":{"field":"v","type":"quantitative"}}},
   {"data":{"name":"diag"},"transform":[{"filter":{"field":"c","equal":"M"}}],"mark":{"type":"line","color":"black","strokeWidth":3.5},"encoding":{"x":{"field":"r","type":"quantitative"},"y":{"field":"v","type":"quantitative"}}},
   {"data":{"values":[{}]},"mark":{"type":"rule","strokeDash":[7,7],"strokeWidth":3,"color":"black"},"encoding":{"x":{"datum":7170,"type":"quantitative"},"y":{"datum":0.585,"type":"quantitative"},"y2":{"datum":1}}},
   {"data":{"values":[{}]},"mark":{"type":"rule","strokeDash":[7,7],"strokeWidth":3,"color":"black"},"encoding":{"x":{"datum":7170,"type":"quantitative"},"y":{"datum":0,"type":"quantitative"},"y2":{"datum":0.336}}},
   {"data":{"values":[{}]},"mark":{"type":"text","text":["FFPE (Array)","Area = -0.161","P = 0.000855"],"align":"left","baseline":"middle","fontSize":21,"lineHeight":26},"encoding":{"x":{"datum":483,"type":"quantitative"},"y":{"datum":0.923,"type":"quantitative"}}},
   {"data":{"values":[{}]},"mark":{"type":"text","text":"Increased ————————→ Decreased","align":"center","baseline":"middle","fontSize":17},"encoding":{"x":{"datum":6200,"type":"quantitative"},"y":{"datum":-0.235,"type":"quantitative"}}}
  ]},
  {"width":358,"height":287,"title":{"text":"N","dx":-59,"dy":29},"layer":[
   {"data":{"name":"diag"},"transform":[{"filter":{"field":"c","equal":"N"}}],"mark":{"type":"area","color":"#0000ff"},
    "encoding":{"x":{"field":"r","type":"quantitative","scale":{"domain":[0,12300],"nice":false,"zero":false},"axis":{"values":[2000,4000,6000,8000,11000],"format":"d","title":"Gene Rank (GPP vs NN)","labelFontSize":17,"titleFontSize":22,"labelPadding":6,"titlePadding":5,"tickSize":7}},
     "y":{"field":"v","type":"quantitative","scale":{"domain":[0,1],"nice":false,"zero":false},"axis":{"values":[0,0.2,0.4,0.6,0.8,1],"format":".1~f","title":"Cumulative overlap","labelFontSize":15,"titleFontSize":22,"labelPadding":4,"titlePadding":6,"tickSize":7}}}},
   {"data":{"name":"cur"},"transform":[{"filter":{"field":"c","equal":"N"}}],"mark":{"type":"area","color":"#ffffff","interpolate":"step-after"},"encoding":{"x":{"field":"r","type":"quantitative"},"y":{"field":"v","type":"quantitative"}}},
   {"data":{"name":"cur"},"transform":[{"filter":{"field":"c","equal":"N"}}],"mark":{"type":"line","color":"black","strokeWidth":3.5,"interpolate":"step-after"},"encoding":{"x":{"field":"r","type":"quantitative"},"y":{"field":"v","type":"quantitative"}}},
   {"data":{"name":"diag"},"transform":[{"filter":{"field":"c","equal":"N"}}],"mark":{"type":"line","color":"black","strokeWidth":3.5},"encoding":{"x":{"field":"r","type":"quantitative"},"y":{"field":"v","type":"quantitative"}}},
   {"data":{"values":[{}]},"mark":{"type":"rule","strokeDash":[7,7],"strokeWidth":3,"color":"black"},"encoding":{"x":{"datum":8000,"type":"quantitative"},"y":{"datum":0.65,"type":"quantitative"},"y2":{"datum":1}}},
   {"data":{"values":[{}]},"mark":{"type":"rule","strokeDash":[7,7],"strokeWidth":3,"color":"black"},"encoding":{"x":{"datum":8000,"type":"quantitative"},"y":{"datum":0,"type":"quantitative"},"y2":{"datum":0.162}}},
   {"data":{"values":[{}]},"mark":{"type":"text","text":["FFPE (Array)","Area = -0.312","P = 1e-10"],"align":"left","baseline":"middle","fontSize":21,"lineHeight":26},"encoding":{"x":{"datum":550,"type":"quantitative"},"y":{"datum":0.923,"type":"quantitative"}}},
   {"data":{"values":[{}]},"mark":{"type":"text","text":"Increased ————————→ Decreased","align":"center","baseline":"middle","fontSize":17},"encoding":{"x":{"datum":6250,"type":"quantitative"},"y":{"datum":-0.235,"type":"quantitative"}}}
  ]}
 ],"bounds":"flush","spacing":78}
]}
]
}
